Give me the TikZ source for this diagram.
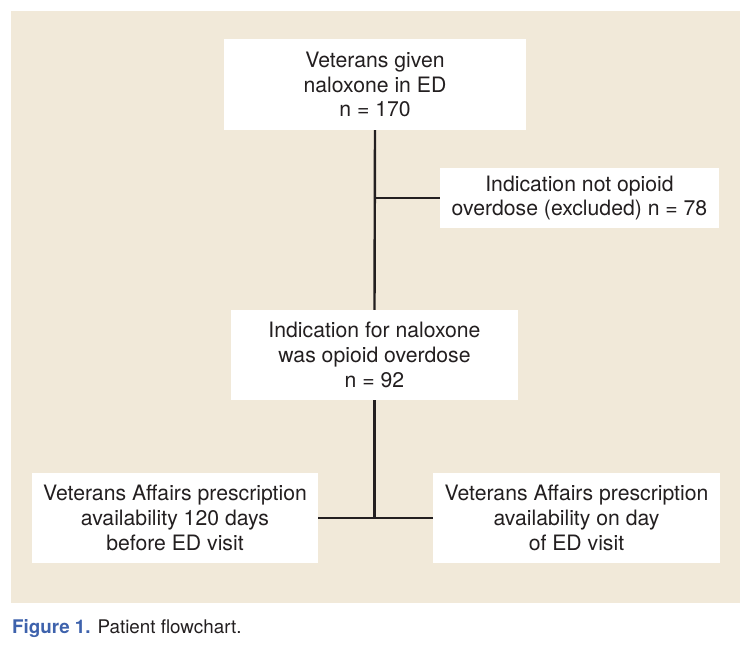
\documentclass[tikz,border=0pt]{standalone}
\usepackage{fontspec}
\setmainfont{TeX Gyre Heros}
\usepackage{tikz}
\usetikzlibrary{calc,positioning}
\usepackage{xcolor}
\definecolor{Panel}{RGB}{241,233,217}
\definecolor{Figblue}{RGB}{62,98,172}
\definecolor{Ink}{RGB}{35,31,32}

\begin{document}
\begin{tikzpicture}[x=1pt,y=-1pt,
  flowbox/.style={fill=white, align=center, inner sep=0pt, text=Ink,
    font=\fontsize{21.2}{24.8}\selectfont},
  link/.style={draw=Ink, line width=2.4pt}]
\useasboundingbox (0,0) rectangle (750,649);
\fill[Panel] (10.5,10.5) rectangle (740,602.5);
%
%
\node[flowbox, minimum width=302pt, minimum height=91pt] (given) at (375,84.5) {Veterans given\\naloxone in ED\\n = 170};
\node[flowbox, minimum width=279pt, minimum height=60pt] (excluded) at (579.5,198) {Indication not opioid\\overdose (excluded) n = 78};
\node[flowbox, minimum width=287pt, minimum height=90pt] (overdose) at (374.5,355) {Indication for naloxone\\was opioid overdose\\n = 92};
\node[flowbox, minimum width=286pt, minimum height=90pt] (before) at (175,518) {Veterans Affairs prescription\\availability 120 days\\before ED visit};
\node[flowbox, minimum width=287pt, minimum height=90pt] (dayof) at (576.5,518) {Veterans Affairs prescription\\availability on day\\of ED visit};
%
%
\coordinate (split) at (given.south |- excluded.west);
\coordinate (join) at (overdose.south |- before.east);
\draw[link] (given.south) -- (overdose.north);
\draw[link] (split) -- (excluded.west);
\draw[link] (overdose.south) -- (join);
\draw[link] (before.east) -- (dayof.west);
%
\node[anchor=base west, inner sep=0pt, font=\fontsize{18.8}{22}\selectfont] (caption) at (12,633) {\textcolor{Figblue}{\textbf{Figure 1.}} \textcolor{Ink}{Patient flowchart.}};
\end{tikzpicture}
\end{document}
